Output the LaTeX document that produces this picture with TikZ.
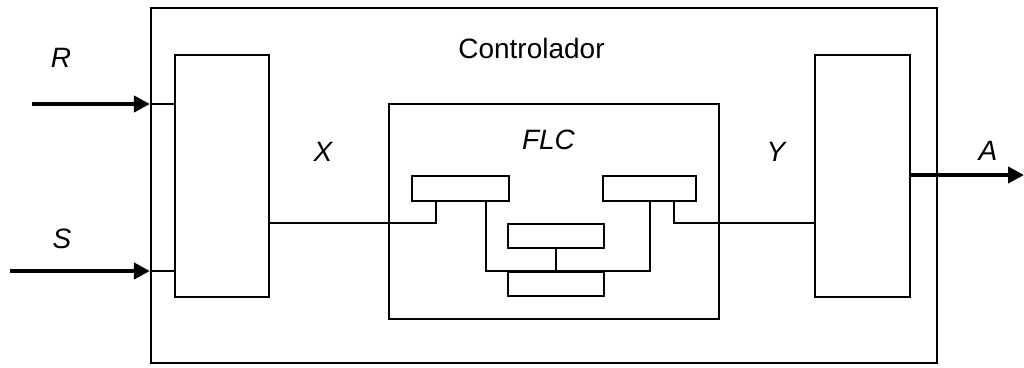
\documentclass[tikz,border=0pt]{standalone}
\usepackage{fontspec}
\setmainfont{Liberation Sans}
\usetikzlibrary{arrows.meta}
\begin{document}
\begin{tikzpicture}[x=1pt,y=-1pt,
  blk/.style={draw, line width=2.2pt, inner sep=0pt, rectangle},
  sblk/.style={draw, line width=2pt, inner sep=0pt, rectangle, minimum height=25pt},
  wire/.style={line width=2pt},
  arr/.style={line width=4pt, -{Triangle[length=16pt,width=16pt]}},
  lbl/.style={font=\fontsize{28}{32}\selectfont\itshape, inner sep=0pt}
]
\useasboundingbox (0,0) rectangle (1024,367);
\node[blk, minimum width=786pt, minimum height=355pt] (outer) at (544,185.5) {};
\node[blk, minimum width=94pt, minimum height=242pt] (lblk) at (222,176) {};
\node[blk, minimum width=95pt, minimum height=242pt] (rblk) at (862.5,176) {};
\node[blk, minimum width=330pt, minimum height=215pt] (flc) at (554,211.5) {};
\node[sblk, minimum width=97pt] (ls) at (460.5,188.5) {};
\node[sblk, minimum width=93pt] (rs) at (649.5,188.5) {};
\node[sblk, minimum width=96pt, minimum height=24pt] (mid) at (556,236) {};
\node[sblk, minimum width=96pt, minimum height=24pt] (bot) at (556,284) {};
\coordinate (lc) at ([xshift=25pt]ls.south west);
\coordinate (rc) at ([xshift=-23pt]rs.south east);
\coordinate (lt) at ([xshift=-24pt]ls.south east);
\coordinate (rt) at ([xshift=48pt]rs.south west);
\draw[wire] (lblk.east |- mid.north) -| (lc);
\draw[wire] (rblk.west |- mid.north) -| (rc);
\draw[wire] (lt) |- (bot.north) -| (rt);
\draw[wire] (mid.south) -- (bot.north);
\coordinate (rin) at (32,104);
\coordinate (sin) at (10,271);
\coordinate (aout) at (1024,175);
\draw[arr] (rin) -- (outer.west |- rin);
\draw[arr] (sin) -- (outer.west |- sin);
\draw[wire] (outer.west |- rin) -- (lblk.west |- rin);
\draw[wire] (outer.west |- sin) -- (lblk.west |- sin);
\draw[arr] (rblk.east |- aout) -- (aout);
\node[lbl] (lr) at (61,57.5) {R};
\node[lbl] (lsn) at (62,239) {S};
\node[lbl] (lx) at (323,152) {X};
\node[lbl] (ly) at (776,152) {Y};
\node[lbl] (la) at (988,151) {A};
\node[lbl] (lf) at (548.5,140) {FLC};
\node[lbl, font=\fontsize{28}{32}\selectfont] (lc2) at (531.5,48) {Controlador};
\end{tikzpicture}
\end{document}
